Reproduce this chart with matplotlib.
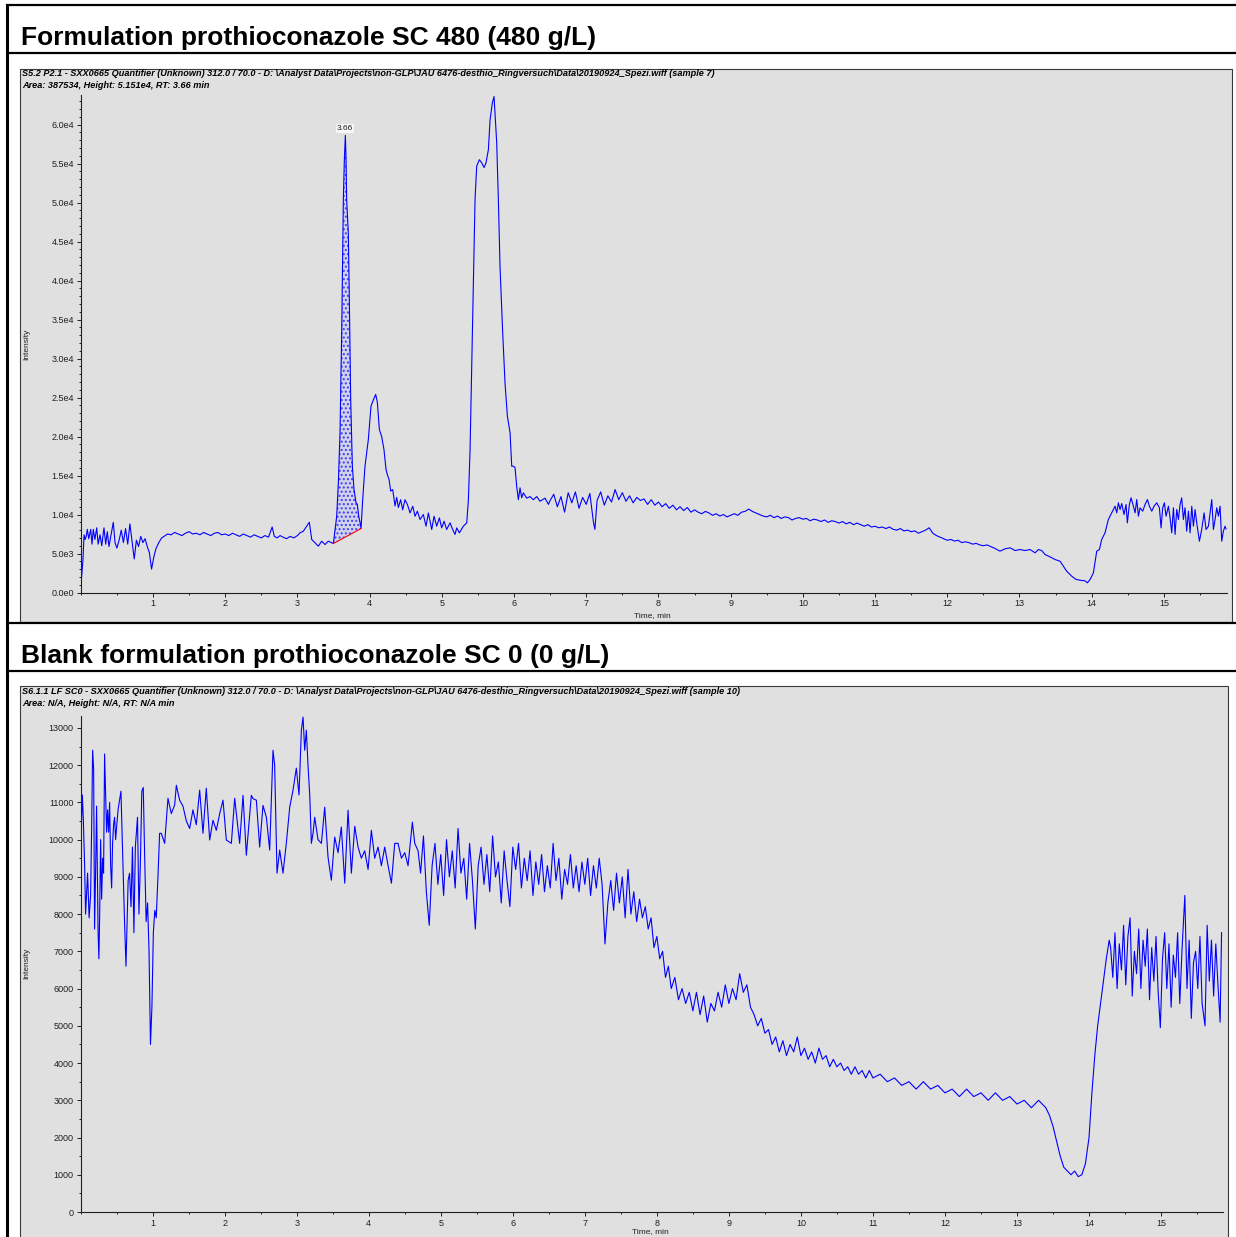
import matplotlib.pyplot as plt
import numpy as np
from matplotlib.patches import Rectangle
from matplotlib.ticker import FuncFormatter, MultipleLocator

# ---- data: (retention time [min], intensity [cps]) ----
trace_480 = [
    (0.000, 700), (0.015, 2500), (0.030, 4200), (0.045, 7400), (0.060, 6800),
    (0.075, 7200), (0.090, 8100), (0.110, 6900), (0.137, 8100), (0.155, 6200),
    (0.173, 8100), (0.195, 6800), (0.220, 8300), (0.240, 6200), (0.266, 7400),
    (0.290, 6000), (0.321, 8300), (0.345, 6200), (0.367, 7800), (0.390, 5900),
    (0.427, 7800), (0.450, 9000), (0.474, 6400), (0.500, 5700), (0.533, 6800),
    (0.560, 8000), (0.590, 6400), (0.620, 8200), (0.650, 6200), (0.680, 8800),
    (0.710, 6500), (0.740, 4300), (0.770, 6700), (0.800, 5900), (0.830, 7200),
    (0.860, 6400), (0.890, 6900), (0.920, 5900), (0.950, 5100), (0.980, 3000),
    (1.010, 4500), (1.040, 5600), (1.080, 6400), (1.120, 7000), (1.170, 7300),
    (1.200, 7500), (1.250, 7400), (1.300, 7700), (1.350, 7500), (1.400, 7300),
    (1.450, 7600), (1.500, 7800), (1.550, 7500), (1.600, 7600), (1.650, 7400),
    (1.700, 7700), (1.750, 7500), (1.800, 7300), (1.850, 7600), (1.900, 7700),
    (1.950, 7400), (2.000, 7500), (2.050, 7300), (2.100, 7600), (2.150, 7400),
    (2.200, 7200), (2.250, 7500), (2.300, 7300), (2.350, 7100), (2.400, 7400),
    (2.450, 7200), (2.500, 7000), (2.550, 7300), (2.600, 7100), (2.650, 8400),
    (2.680, 7200), (2.720, 7000), (2.760, 7300), (2.800, 7100), (2.850, 6900),
    (2.900, 7200), (2.950, 7000), (3.000, 7300), (3.036, 7650), (3.082, 7860),
    (3.165, 9010), (3.198, 6800), (3.244, 6370), (3.290, 5940), (3.336, 6580),
    (3.382, 6150), (3.428, 6580), (3.475, 6370), (3.498, 6280), (3.544, 9780),
    (3.567, 14100), (3.590, 20500), (3.613, 33300), (3.636, 50400), (3.650, 55500),
    (3.664, 58620), (3.673, 55900), (3.682, 50400), (3.705, 46100), (3.719, 37600),
    (3.738, 24700), (3.761, 16200), (3.784, 13200), (3.812, 11500), (3.830, 11300),
    (3.849, 9780), (3.867, 9000), (3.881, 8200), (3.904, 11900), (3.936, 16200),
    (3.982, 19600), (4.019, 23900), (4.052, 24700), (4.084, 25400), (4.107, 24400),
    (4.135, 20900), (4.167, 20000), (4.199, 18300), (4.227, 15800), (4.246, 15100),
    (4.269, 14500), (4.292, 13000), (4.320, 13200), (4.352, 11100), (4.375, 12200),
    (4.398, 10900), (4.430, 11900), (4.458, 10600), (4.490, 11900), (4.523, 11300),
    (4.560, 10200), (4.597, 11060), (4.629, 9780), (4.661, 10430), (4.698, 9360),
    (4.744, 10000), (4.781, 8500), (4.814, 10200), (4.860, 8080), (4.892, 9780),
    (4.929, 8500), (4.966, 9570), (4.998, 8290), (5.031, 9140), (5.067, 8080),
    (5.114, 8930), (5.150, 8080), (5.183, 7440), (5.206, 8290), (5.243, 7650),
    (5.298, 8500), (5.345, 8930), (5.368, 11900), (5.391, 18300), (5.414, 29000),
    (5.437, 39700), (5.460, 50400), (5.483, 54700), (5.520, 55500), (5.552, 55100),
    (5.585, 54500), (5.612, 55100), (5.645, 56800), (5.668, 60600), (5.700, 62800),
    (5.723, 63600), (5.760, 57700), (5.783, 50400), (5.806, 41800), (5.843, 33300),
    (5.875, 26900), (5.908, 22600), (5.945, 20500), (5.968, 16200), (5.991, 16200),
    (6.014, 16000), (6.037, 13600), (6.060, 11900), (6.083, 13420), (6.106, 12140),
    (6.129, 12780), (6.176, 12100), (6.222, 12300), (6.268, 11900), (6.314, 12300),
    (6.360, 11700), (6.429, 12100), (6.476, 11300), (6.500, 11800), (6.550, 12600),
    (6.600, 11000), (6.650, 12300), (6.700, 10300), (6.750, 12800), (6.800, 11500),
    (6.850, 12900), (6.900, 10800), (6.950, 12200), (7.000, 11300), (7.050, 12700),
    (7.100, 9000), (7.120, 8100), (7.150, 11800), (7.200, 12900), (7.250, 11200),
    (7.300, 12400), (7.350, 11600), (7.400, 13200), (7.450, 11900), (7.500, 12800),
    (7.550, 11700), (7.600, 12400), (7.650, 11500), (7.700, 12200), (7.750, 11800),
    (7.800, 12000), (7.850, 11300), (7.900, 11900), (7.950, 11200), (8.000, 11600),
    (8.050, 11000), (8.100, 11400), (8.150, 10800), (8.200, 11200), (8.250, 10600),
    (8.300, 11000), (8.350, 10500), (8.400, 10900), (8.450, 10300), (8.500, 10600),
    (8.55, 10300), (8.60, 10100), (8.65, 10400), (8.70, 10200), (8.75, 9900),
    (8.80, 10100), (8.85, 9800), (8.90, 10000), (8.95, 9700), (9.00, 9900),
    (9.05, 10100), (9.10, 9900), (9.15, 10300), (9.20, 10400), (9.25, 10700),
    (9.30, 10400), (9.35, 10200), (9.40, 10000), (9.45, 9800), (9.50, 9700),
    (9.55, 9900), (9.60, 9600), (9.65, 9800), (9.70, 9500), (9.75, 9700),
    (9.80, 9600), (9.85, 9300), (9.90, 9500), (9.95, 9600), (10.00, 9400),
    (10.05, 9500), (10.10, 9200), (10.15, 9400), (10.20, 9300), (10.25, 9100),
    (10.30, 9300), (10.35, 9000), (10.40, 9200), (10.45, 9100), (10.50, 8900),
    (10.55, 9100), (10.60, 8800), (10.65, 9000), (10.70, 8700), (10.75, 8900),
    (10.80, 8700), (10.85, 8500), (10.90, 8700), (10.95, 8400), (11.00, 8500),
    (11.05, 8300), (11.10, 8400), (11.15, 8200), (11.20, 8400), (11.25, 8100),
    (11.30, 8000), (11.35, 8200), (11.40, 7900), (11.45, 8000), (11.50, 7800),
    (11.55, 7900), (11.60, 7600), (11.65, 7800), (11.70, 8000), (11.75, 8300),
    (11.80, 7600), (11.85, 7300), (11.90, 7100), (11.95, 6900), (12.00, 6700),
    (12.05, 6800), (12.10, 6600), (12.15, 6700), (12.20, 6400), (12.25, 6500),
    (12.30, 6400), (12.35, 6200), (12.40, 6300), (12.45, 6100), (12.50, 6000),
    (12.55, 6100), (12.60, 5900), (12.65, 5700), (12.731, 5300), (12.800, 5600),
    (12.870, 5730), (12.939, 5380), (13.008, 5510), (13.077, 5380), (13.147, 5510),
    (13.216, 5090), (13.262, 5510), (13.308, 5380), (13.354, 4870), (13.424, 4570),
    (13.493, 4230), (13.562, 4010), (13.608, 3370), (13.654, 2730), (13.724, 2090),
    (13.784, 1670), (13.862, 1540), (13.908, 1500), (13.941, 1240), (13.978, 1670),
    (14.024, 2520), (14.070, 5300), (14.107, 5510), (14.139, 6800), (14.185, 7650),
    (14.231, 9360), (14.278, 10210), (14.324, 11070), (14.347, 10210), (14.370, 11500),
    (14.393, 10640), (14.416, 11410), (14.448, 10000), (14.476, 11280), (14.494, 8930),
    (14.522, 11280), (14.545, 12140), (14.578, 11070), (14.601, 10210), (14.624, 11920),
    (14.647, 9790), (14.670, 10860), (14.707, 10430), (14.739, 11280), (14.772, 11920),
    (14.799, 11070), (14.832, 10430), (14.864, 11070), (14.901, 11500), (14.938, 10860),
    (14.961, 8290), (14.984, 10860), (15.007, 11500), (15.030, 9790), (15.063, 11070),
    (15.086, 9570), (15.109, 7650), (15.132, 10860), (15.155, 7440), (15.178, 10640),
    (15.201, 9360), (15.224, 11280), (15.247, 12140), (15.270, 9360), (15.293, 10860),
    (15.316, 7860), (15.340, 10430), (15.363, 7650), (15.386, 11070), (15.409, 8500),
    (15.432, 10640), (15.455, 8930), (15.492, 6580), (15.524, 8080), (15.557, 10210),
    (15.584, 8080), (15.617, 8500), (15.640, 10210), (15.663, 11920), (15.686, 8080),
    (15.709, 9360), (15.732, 10860), (15.755, 9790), (15.778, 11070), (15.801, 6580),
    (15.824, 7860), (15.847, 8500), (15.861, 8160),
]

trace_blank = [
    (0.000, 3200), (0.005, 6000), (0.010, 10300), (0.024, 11200), (0.037, 10600),
    (0.056, 9300), (0.069, 8000), (0.097, 9100), (0.118, 7900), (0.139, 8500),
    (0.153, 10300), (0.167, 12400), (0.181, 11900), (0.194, 7600), (0.208, 9100),
    (0.222, 10900), (0.243, 7500), (0.254, 6800), (0.264, 7900), (0.278, 10000),
    (0.292, 8400), (0.306, 9500), (0.319, 9100), (0.333, 12300), (0.347, 11300),
    (0.361, 10200), (0.375, 10800), (0.389, 10200), (0.403, 11000), (0.417, 9300),
    (0.431, 8700), (0.444, 9900), (0.458, 10400), (0.472, 10600), (0.486, 10000),
    (0.520, 10800), (0.560, 11300), (0.590, 9200), (0.610, 7800), (0.630, 6600),
    (0.660, 8900), (0.680, 9100), (0.700, 8200), (0.720, 9800), (0.740, 7500),
    (0.760, 9800), (0.790, 10600), (0.810, 8000), (0.830, 9400), (0.850, 11300),
    (0.870, 11400), (0.890, 9500), (0.910, 7800), (0.930, 8300), (0.950, 7000),
    (0.970, 4500), (0.990, 5500), (1.010, 7500), (1.030, 8100), (1.050, 7900),
    (1.074, 9000), (1.097, 10170), (1.120, 10170), (1.167, 9900), (1.213, 11110),
    (1.259, 10700), (1.306, 10930), (1.329, 11460), (1.375, 11060), (1.421, 10900),
    (1.468, 10500), (1.514, 10300), (1.560, 10800), (1.606, 10400), (1.653, 11330),
    (1.699, 10170), (1.745, 11380), (1.792, 9990), (1.838, 10520), (1.884, 10250),
    (1.931, 10700), (1.977, 11060), (2.023, 9990), (2.093, 9900), (2.139, 11110),
    (2.208, 9900), (2.255, 11190), (2.301, 9580), (2.370, 11190), (2.394, 11100),
    (2.440, 11060), (2.486, 9800), (2.532, 10920), (2.579, 10600), (2.625, 9720),
    (2.671, 12400), (2.694, 12000), (2.727, 9100), (2.764, 9720), (2.810, 9100),
    (2.856, 9900), (2.903, 10870), (2.949, 11330), (2.995, 11920), (3.032, 11200),
    (3.065, 12940), (3.088, 13290), (3.111, 12400), (3.134, 12940), (3.157, 12000),
    (3.181, 11200), (3.204, 9900), (3.227, 10170), (3.250, 10600), (3.296, 10000),
    (3.343, 9900), (3.389, 10870), (3.435, 9530), (3.481, 8910), (3.528, 10070),
    (3.574, 9650), (3.620, 10340), (3.667, 8830), (3.713, 10790), (3.759, 9100),
    (3.806, 10360), (3.852, 9800), (3.898, 9500), (3.944, 9700), (3.991, 9200),
    (4.037, 10250), (4.083, 9500), (4.130, 9800), (4.176, 9300), (4.222, 9800),
    (4.269, 9300), (4.315, 8830), (4.361, 9900), (4.407, 9900), (4.454, 9500),
    (4.500, 9650), (4.546, 9300), (4.606, 10470), (4.639, 9900), (4.685, 9700),
    (4.72, 9100), (4.76, 10100), (4.80, 8600), (4.84, 7700), (4.88, 9300),
    (4.92, 9900), (4.96, 8800), (5.00, 9600), (5.04, 8500), (5.08, 10000),
    (5.12, 9000), (5.16, 9700), (5.20, 8700), (5.24, 10300), (5.28, 9100),
    (5.32, 9500), (5.36, 8400), (5.40, 9900), (5.44, 8900), (5.48, 7600),
    (5.52, 9300), (5.56, 9800), (5.60, 8800), (5.64, 9600), (5.68, 8600),
    (5.72, 10100), (5.76, 9000), (5.80, 9400), (5.84, 8300), (5.88, 9700),
    (5.92, 8900), (5.96, 8200), (6.00, 9800), (6.04, 9200), (6.08, 9900),
    (6.12, 8700), (6.16, 9500), (6.20, 8900), (6.24, 9700), (6.28, 8500),
    (6.32, 9400), (6.36, 8800), (6.40, 9600), (6.44, 8600), (6.48, 9300),
    (6.52, 8700), (6.56, 9900), (6.60, 8900), (6.64, 9500), (6.68, 8400),
    (6.72, 9200), (6.76, 8800), (6.80, 9600), (6.84, 8700), (6.88, 9300),
    (6.92, 8600), (6.96, 9400), (7.00, 8800), (7.04, 9500), (7.08, 8500),
    (7.12, 9300), (7.16, 8700), (7.20, 9500), (7.24, 8800), (7.28, 7200),
    (7.32, 8300), (7.36, 8900), (7.40, 8100), (7.44, 9100), (7.48, 8300),
    (7.52, 9000), (7.56, 7900), (7.60, 9200), (7.64, 8000), (7.68, 8600),
    (7.72, 7800), (7.76, 8400), (7.80, 7900), (7.84, 8200), (7.88, 7600),
    (7.92, 7900), (7.96, 7100), (8.00, 7400), (8.04, 6800), (8.08, 7000),
    (8.12, 6300), (8.16, 6600), (8.20, 6000), (8.25, 6300), (8.30, 5700),
    (8.35, 6000), (8.40, 5600), (8.45, 5900), (8.50, 5400), (8.55, 5900),
    (8.60, 5300), (8.65, 5800), (8.70, 5100), (8.75, 5600), (8.80, 5400),
    (8.85, 5900), (8.90, 5500), (8.95, 6100), (9.00, 5600), (9.05, 6000),
    (9.10, 5700), (9.15, 6400), (9.20, 5900), (9.25, 6100), (9.30, 5500),
    (9.35, 5300), (9.40, 5000), (9.45, 5200), (9.50, 4800), (9.55, 4900),
    (9.60, 4500), (9.65, 4700), (9.70, 4300), (9.75, 4600), (9.80, 4200),
    (9.85, 4500), (9.90, 4300), (9.95, 4700), (10.00, 4200), (10.05, 4400),
    (10.10, 4100), (10.15, 4300), (10.20, 4000), (10.25, 4400), (10.30, 4100),
    (10.35, 4200), (10.40, 3900), (10.45, 4100), (10.50, 3900), (10.55, 4000),
    (10.60, 3800), (10.65, 3900), (10.70, 3700), (10.75, 3900), (10.80, 3700),
    (10.85, 3800), (10.90, 3600), (10.95, 3800), (11.00, 3600), (11.10, 3700),
    (11.20, 3500), (11.30, 3600), (11.40, 3400), (11.50, 3500), (11.60, 3300),
    (11.70, 3500), (11.80, 3300), (11.90, 3400), (12.00, 3200), (12.10, 3300),
    (12.20, 3100), (12.30, 3300), (12.40, 3100), (12.50, 3200), (12.60, 3000),
    (12.70, 3200), (12.80, 3000), (12.90, 3100), (13.00, 2900), (13.10, 3000),
    (13.20, 2800), (13.30, 3000), (13.35, 2900), (13.40, 2800), (13.45, 2600),
    (13.50, 2300), (13.55, 1900), (13.60, 1500), (13.65, 1200), (13.70, 1100),
    (13.75, 1000), (13.80, 1100), (13.85, 950), (13.90, 1000), (13.95, 1300),
    (14.00, 2000), (14.04, 3200), (14.08, 4200), (14.12, 5000), (14.16, 5600),
    (14.20, 6200), (14.24, 6800), (14.28, 7300), (14.30, 7100), (14.33, 6300),
    (14.36, 7500), (14.39, 6000), (14.42, 7200), (14.45, 6500), (14.48, 7700),
    (14.51, 6100), (14.54, 7400), (14.57, 7900), (14.60, 5800), (14.63, 7000),
    (14.66, 6400), (14.69, 7600), (14.72, 6000), (14.75, 7300), (14.78, 6600),
    (14.81, 7600), (14.84, 5700), (14.87, 7100), (14.90, 6200), (14.93, 7400),
    (14.96, 5900), (14.99, 4950), (15.02, 6800), (15.05, 7500), (15.08, 6000),
    (15.11, 7200), (15.14, 5500), (15.17, 6900), (15.20, 6300), (15.23, 7500),
    (15.26, 5600), (15.29, 7000), (15.33, 8500), (15.36, 6000), (15.39, 7300),
    (15.42, 5200), (15.45, 6700), (15.48, 7000), (15.51, 6000), (15.54, 7400),
    (15.57, 5600), (15.61, 5000), (15.64, 7700), (15.67, 6200), (15.70, 7300),
    (15.73, 5800), (15.76, 7200), (15.79, 6100), (15.82, 5100), (15.84, 7500),
]

# integrated peak (sample 7)
peak_rt = 3.66
peak_start, peak_end = 3.498, 3.881

titles = [
    "Formulation prothioconazole SC 480 (480 g/L)",
    "Blank formulation prothioconazole SC 0 (0 g/L)",
]
headers = [
    (r"S5.2 P2.1 - SXX0665 Quantifier (Unknown) 312.0 / 70.0 - D: \Analyst Data\Projects"
     r"\non-GLP\JAU 6476-desthio_Ringversuch\Data\20190924_Spezi.wiff (sample 7)",
     "Area: 387534, Height: 5.151e4, RT: 3.66 min"),
    (r"S6.1.1 LF SC0 - SXX0665 Quantifier (Unknown) 312.0 / 70.0 - D: \Analyst Data\Projects"
     r"\non-GLP\JAU 6476-desthio_Ringversuch\Data\20190924_Spezi.wiff (sample 10)",
     "Area: N/A, Height: N/A, RT: N/A min"),
]
x_ticks = list(range(1, 16))

rt_480, int_480 = np.array(trace_480).T
rt_blank, int_blank = np.array(trace_blank).T

W, H = 1236, 1237
BLUE = "#0000ff"
GREY = "#e0e0e0"
SANS = ["Liberation Sans", "DejaVu Sans"]

fig = plt.figure(figsize=(W / 100, H / 100), dpi=100)

# page layer in pixel units: table rules, grey panels, headings
page = fig.add_axes([0, 0, 1, 1])
page.set_xlim(0, W)
page.set_ylim(H, 0)
page.axis("off")

for y in (5, 53, 622.5, 671):
    page.plot([6, W], [y, y], color="black", lw=1.6, solid_capstyle="butt")
page.plot([7, 7], [4, H], color="black", lw=2.2, solid_capstyle="butt")

page.add_patch(Rectangle((20, 69), 1212, 553, fc=GREY, ec="#3a3a3a", lw=0.8))
page.add_patch(Rectangle((20, 686), 1208, 560, fc=GREY, ec="#3a3a3a", lw=0.8))

for title, y in zip(titles, (38, 656)):
    page.text(21, y, title, fontsize=19, fontweight="bold", family=SANS,
              va="center", ha="left")

for (l1, l2), y in zip(headers, (74, 692)):
    page.text(22, y, l1, fontsize=6.6, fontweight="bold", style="italic",
              family=SANS, va="center", ha="left")
    page.text(22, y + 11, l2, fontsize=6.6, fontweight="bold", style="italic",
              family=SANS, va="center", ha="left")

for y in (344, 963):
    page.text(27, y, "Intensity", rotation=90, fontsize=6, family=SANS,
              color="#202020", ha="center", va="center")
page.text(652, 616, "Time, min", fontsize=6, family=SANS, color="#202020",
          ha="center", va="center")
page.text(650, 1232, "Time, min", fontsize=6, family=SANS, color="#202020",
          ha="center", va="center")


def sci_label(v, _pos):
    if v == 0:
        return "0.0e0"
    e = int(np.floor(np.log10(abs(v))))
    return f"{v / 10 ** e:.1f}e{e}"


def px_axes(left, right, top, bottom):
    return fig.add_axes([left / W, 1 - bottom / H, (right - left) / W, (bottom - top) / H])


def style(ax, xmax, ymax, major, minor):
    ax.set_facecolor("none")
    ax.set_xlim(0, xmax)
    ax.set_ylim(0, ymax)
    for s in ("top", "right"):
        ax.spines[s].set_visible(False)
    for s in ("left", "bottom"):
        ax.spines[s].set_color("#202020")
        ax.spines[s].set_linewidth(0.8)
    ax.set_xticks(x_ticks)
    ax.xaxis.set_minor_locator(MultipleLocator(0.5))
    ax.yaxis.set_major_locator(MultipleLocator(major))
    ax.yaxis.set_minor_locator(MultipleLocator(minor))
    ax.tick_params(which="major", length=3, width=0.7, color="#202020", pad=2,
                   labelsize=6.5, labelcolor="#202020")
    ax.tick_params(which="minor", length=1.6, width=0.7, color="#202020")
    for lab in ax.get_xticklabels() + ax.get_yticklabels():
        lab.set_family(SANS)


# panel 1: SC 480
ax1 = px_axes(80.8, 1226.7, 95, 592.5)
style(ax1, 15.87, 63800, 5000, 1000)
ax1.yaxis.set_major_formatter(FuncFormatter(sci_label))

win = (rt_480 >= peak_start) & (rt_480 <= peak_end)
b0, b1 = np.interp([peak_start, peak_end], rt_480, int_480)
base = np.interp(rt_480[win], [peak_start, peak_end], [b0, b1])
ax1.fill_between(rt_480[win], base, int_480[win], facecolor="#d2d2ea",
                 edgecolor="#4040ff", hatch="....", linewidth=0, zorder=1)
ax1.plot(rt_480, int_480, color=BLUE, lw=0.8, zorder=3)
ax1.plot([peak_start, peak_end], [b0, b1], color="red", lw=0.8, zorder=4)

apex = int_480[win].max()
ax1.annotate(f"{peak_rt:.2f}", xy=(peak_rt, apex), xytext=(0, 2.5),
             textcoords="offset points", ha="center", va="bottom", fontsize=6,
             family=SANS, color="#202020",
             bbox=dict(boxstyle="square,pad=0.15", fc="#f6f6f6", ec="none"))

# panel 2: blank
ax2 = px_axes(80.6, 1223, 716, 1212)
style(ax2, 15.86, 13320, 1000, 500)
ax2.plot(rt_blank, int_blank, color=BLUE, lw=0.8)

fig.savefig("out.png", dpi=100)
